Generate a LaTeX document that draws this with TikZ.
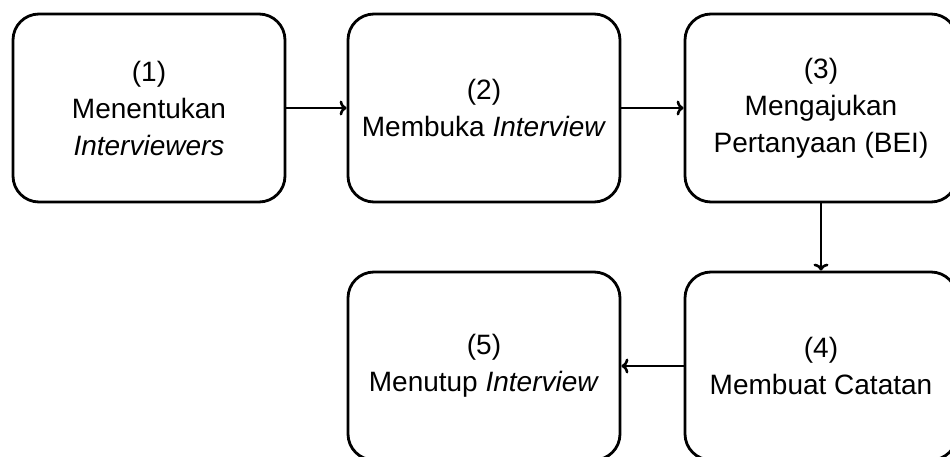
\documentclass[tikz,border=0pt]{standalone}
\usepackage{fontspec}
\setmainfont{Liberation Sans}
\usetikzlibrary{arrows.meta}
\begin{document}
\begin{tikzpicture}[x=1pt,y=-1pt,
  stepbox/.style={draw, line width=2.8pt, rounded corners=26pt, minimum width=272pt, minimum height=188pt, align=center, inner sep=0pt, font=\fontsize{28}{37}\selectfont},
  conn/.style={line width=2.8pt, -{To[length=7pt,width=15pt,line width=2.6pt]}}]
\useasboundingbox (0,0) rectangle (950,457);
\node[stepbox] (b1) at (149,108) {(1)\\Menentukan\\\textit{Interviewers}};
\node[stepbox] (b2) at (484,108) {(2)\\Membuka \textit{Interview}};
\node[stepbox] (b3) at (821,108) {(3)\\Mengajukan\\Pertanyaan (BEI)};
\node[stepbox] (b4) at (821,366) {(4)\\Membuat Catatan};
\node[stepbox] (b5) at (484,366) {(5)\\Menutup \textit{Interview}};
\draw[conn] (b1.east) -- (b2.west);
\draw[conn] (b2.east) -- (b3.west);
\draw[conn] (b3.south) -- (b4.north);
\draw[conn] (b4.west) -- (b5.east);
\end{tikzpicture}
\end{document}
